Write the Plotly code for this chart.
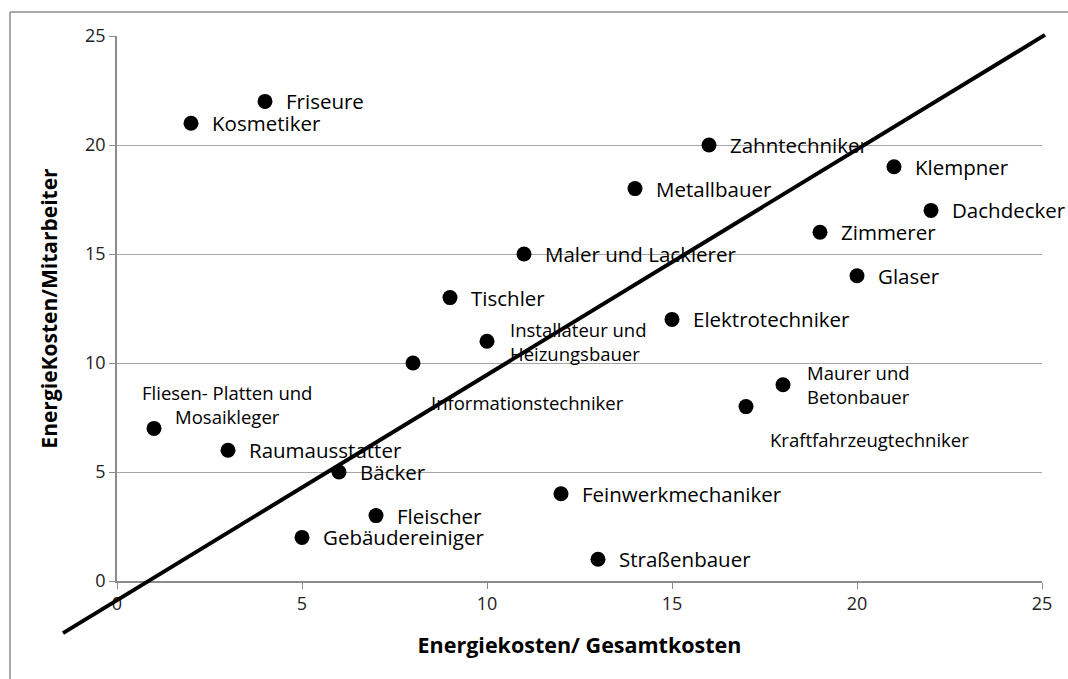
import plotly.graph_objects as go

# ── Data ──────────────────────────────────────────────────────────────────────
TRADES = [
    "Friseure", "Kosmetiker", "Zahntechniker", "Klempner", "Metallbauer",
    "Dachdecker", "Zimmerer", "Maler und Lackierer", "Glaser", "Tischler",
    "Elektrotechniker", "Installateur und<br>Heizungsbauer", "Informationstechniker",
    "Maurer und<br>Betonbauer", "Kraftfahrzeugtechniker",
    "Fliesen- Platten und<br>Mosaikleger", "Raumausstatter", "Bäcker",
    "Feinwerkmechaniker", "Fleischer", "Gebäudereiniger", "Straßenbauer",
]
ENERGY_SHARE = [4, 2, 16, 21, 14, 22, 19, 11, 20, 9, 15, 10, 8, 18, 17, 1, 3, 6, 12, 7, 5, 13]
COST_PER_EMPLOYEE = [22, 21, 20, 19, 18, 17, 16, 15, 14, 13, 12, 11, 10, 9, 8, 7, 6, 5, 4, 3, 2, 1]

TREND_X = [-1.46, 25.08]
TREND_Y = [-2.39, 25.05]

X_TICKS = [0, 5, 10, 15, 20, 25]
Y_TICKS = [0, 5, 10, 15, 20, 25]

# ── Style ─────────────────────────────────────────────────────────────────────
FONT = "Open Sans, sans-serif"
AXIS_GREY = "#8c8c8c"
GRID_GREY = "#a6a6a6"
TEXT = "#000000"

X_RANGE = [0, 25]
Y_RANGE = [0, 25]

W, H = 1068, 679
ML, MR, MT, MB = 117, 26, 36, 98

# label placement per point: (xshift, yshift, xanchor, font size)
SMALL = 18.5
BIG = 20.5
LABEL_STYLE = {
    "Informationstechniker": (16, -39, "left", SMALL),
    "Kraftfahrzeugtechniker": (22, -33, "left", SMALL),
    "Fliesen- Platten und<br>Mosaikleger": (73, 24, "center", SMALL),
    "Installateur und<br>Heizungsbauer": (21, 0, "left", SMALL),
    "Maurer und<br>Betonbauer": (22, 0, "left", SMALL),
}

fig = go.Figure()

fig.add_trace(go.Scatter(
    x=ENERGY_SHARE,
    y=COST_PER_EMPLOYEE,
    mode="markers",
    marker=dict(size=15, color="black"),
    cliponaxis=False,
    showlegend=False,
    hovertext=TRADES,
))

annotations = []
for name, xv, yv in zip(TRADES, ENERGY_SHARE, COST_PER_EMPLOYEE):
    xs, ys, anchor, size = LABEL_STYLE.get(name, (19, 0, "left", BIG))
    annotations.append(dict(
        x=xv, y=yv, text=name, showarrow=False,
        xanchor=anchor, yanchor="middle", xshift=xs, yshift=ys,
        align="center" if anchor == "center" else "left",
        font=dict(size=size, color=TEXT, family=FONT),
    ))


# trend line drawn unclipped in domain coordinates, from data values
def _dom(v, rng):
    return (v - rng[0]) / (rng[1] - rng[0])


PW = W - ML - MR
PH = H - MT - MB

# outer chart frame: only the left and top edges are inside the picture
FX0, FY1 = (10 - ML) / PW, (581 - 12) / PH
FX1, FY0 = (W - ML) / PW, (581 - H) / PH
frame = dict(color="#8c8c8c", width=1.5)

shapes = [
    dict(
        type="line", xref="x domain", yref="y domain",
        x0=_dom(TREND_X[0], X_RANGE), y0=_dom(TREND_Y[0], Y_RANGE),
        x1=_dom(TREND_X[1], X_RANGE), y1=_dom(TREND_Y[1], Y_RANGE),
        line=dict(color="black", width=4),
    ),
    dict(type="line", xref="paper", yref="paper", layer="below",
         x0=FX0, x1=FX0, y0=FY0, y1=FY1, line=frame),
    dict(type="line", xref="paper", yref="paper", layer="below",
         x0=FX0, x1=FX1, y0=FY1, y1=FY1, line=frame),
]

fig.update_layout(
    width=W,
    height=H,
    paper_bgcolor="white",
    plot_bgcolor="white",
    font=dict(family=FONT, color=TEXT),
    margin=dict(l=ML, r=MR, t=MT, b=MB),
    showlegend=False,
    annotations=annotations,
    shapes=shapes,
    xaxis=dict(
        range=X_RANGE,
        tickvals=X_TICKS,
        tickfont=dict(size=18, color="#222222"),
        ticks="outside", ticklen=6, tickcolor=AXIS_GREY,
        showgrid=False, zeroline=False,
        showline=True, linecolor=AXIS_GREY, linewidth=1.5,
        title=dict(text="<b>Energiekosten/ Gesamtkosten</b>",
                   font=dict(size=21.5, color=TEXT), standoff=24),
    ),
    yaxis=dict(
        range=Y_RANGE,
        tickvals=Y_TICKS,
        tickfont=dict(size=18, color="#222222"),
        ticks="outside", ticklen=6, tickcolor=AXIS_GREY,
        showgrid=True, gridcolor=GRID_GREY, gridwidth=1.2,
        zeroline=False,
        showline=True, linecolor=AXIS_GREY, linewidth=1.5,
        title=dict(text="<b>EnergieKosten/Mitarbeiter</b>",
                   font=dict(size=21, color=TEXT), standoff=22),
    ),
)

# drop the default page margin so the figure sits at the window's corner
fig.write_html(
    "out.html",
    config={"displayModeBar": False},
    post_script="document.body.style.margin='0';document.body.style.overflow='hidden';",
)
